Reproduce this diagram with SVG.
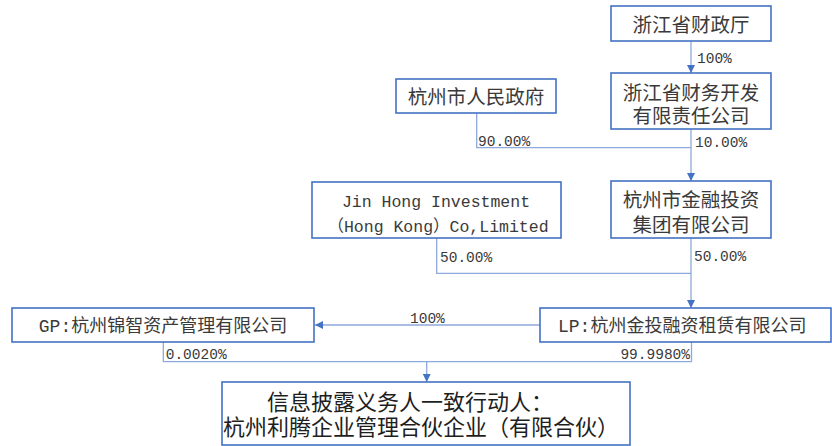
<svg xmlns="http://www.w3.org/2000/svg" width="832" height="446" viewBox="0 0 832 446">
<style>
.box{fill:#fff;stroke:#4472C4;stroke-width:1.6}
.t{font-family:"Liberation Mono","Noto Sans CJK SC",monospace;fill:#3a3a3a}
.c{font-size:19.5px}
.g{font-size:18px}
.b{font-size:22px;fill:#1e1e1e}
.p{font-family:"Liberation Mono","Noto Sans CJK SC",monospace;font-size:14.5px;fill:#3a3a3a}
.ln{fill:none;stroke:#8EA9DB;stroke-width:1.3}
</style>
<defs>
<marker id="ah" viewBox="0 0 10 10" refX="10" refY="5" markerUnits="userSpaceOnUse" markerWidth="9" markerHeight="8" orient="auto">
<path d="M0,0 L10,5 L0,10 z" fill="#4472C4"/>
</marker>
</defs>
<rect width="832" height="446" fill="#fff"/>
<g id="connectors">
<path class="ln" d="M691,41 V73" marker-end="url(#ah)"/>
<path class="ln" d="M476.7,113 V147.7 H691"/>
<path class="ln" d="M691,129 V181" marker-end="url(#ah)"/>
<path class="ln" d="M436.7,238 V273.3 H691"/>
<path class="ln" d="M691,238 V308" marker-end="url(#ah)"/>
<path class="ln" d="M540,325 H315" marker-end="url(#ah)"/>
<path class="ln" d="M163.3,342 V361.7 H691.5 V342"/>
<path class="ln" d="M426.7,361.7 V382" marker-end="url(#ah)"/>
<text class="p" x="697" y="63">100%</text>
<text class="p" x="478" y="146">90.00%</text>
<text class="p" x="695" y="147">10.00%</text>
<text class="p" x="440" y="262">50.00%</text>
<text class="p" x="694" y="261">50.00%</text>
<text class="p" x="410" y="323">100%</text>
<text class="p" x="165.7" y="359">0.0020%</text>
<text class="p" x="690" y="359" text-anchor="end">99.9980%</text>
</g>
<g id="n-zjczt">
<rect class="box" x="611" y="6" width="160" height="35"/>
<text class="t c" x="691" y="32" text-anchor="middle">浙江省财政厅</text>
</g>
<g id="n-zjcwkf">
<rect class="box" x="611" y="73" width="160" height="56"/>
<text class="t c" x="691" y="100" text-anchor="middle">浙江省财务开发</text>
<text class="t c" x="691" y="122.5" text-anchor="middle">有限责任公司</text>
</g>
<g id="n-hzszf">
<rect class="box" x="396" y="79" width="160" height="34"/>
<text class="t c" x="476" y="104" text-anchor="middle">杭州市人民政府</text>
</g>
<g id="n-jinhong">
<rect class="box" x="312" y="182" width="249" height="56"/>
<text class="t" style="font-size:16.5px" x="436" y="207" text-anchor="middle">Jin Hong Investment</text>
<text class="t" style="font-size:16.5px" x="438" y="231.5" text-anchor="middle">（Hong Kong）Co,Limited</text>
</g>
<g id="n-hzjr">
<rect class="box" x="611" y="181" width="160" height="57"/>
<text class="t c" x="691" y="207" text-anchor="middle">杭州市金融投资</text>
<text class="t c" x="691" y="232" text-anchor="middle">集团有限公司</text>
</g>
<g id="n-gp">
<rect class="box" x="12" y="308" width="302" height="34"/>
<text class="t g" x="163" y="332" text-anchor="middle">GP:杭州锦智资产管理有限公司</text>
</g>
<g id="n-lp">
<rect class="box" x="540" y="308" width="291" height="34"/>
<text class="t g" x="558" y="332">LP:杭州金投融资租赁有限公司</text>
</g>
<g id="n-target">
<rect class="box" x="222" y="382" width="408" height="63"/>
<text class="t b" x="267" y="410">信息披露义务人一致行动人：</text>
<text class="t b" x="223" y="435">杭州利腾企业管理合伙企业（有限合伙）</text>
</g>
</svg>
